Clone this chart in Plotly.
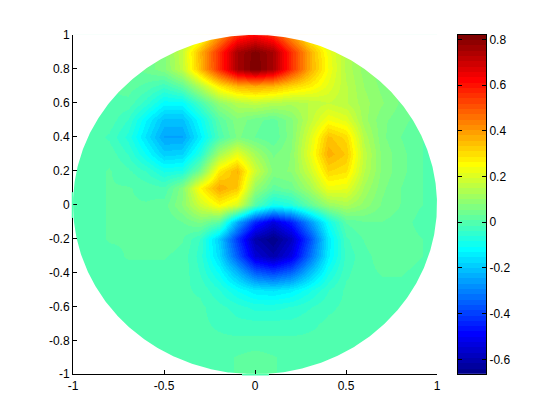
import numpy as np
import plotly.graph_objects as go

x_nodes = [round(-1 + 0.1 * i, 1) for i in range(21)]
y_nodes = [round(1 - 0.1 * i, 1) for i in range(21)]

row_p10 = [.00,.00,.00,.01,.02,.04,.09,.20,.40,.56,.62,.56,.40,.24,.13,.08,.06,.03,.01,.00,.00]
row_p09 = [.00,.00,.01,.02,.04,.07,.17,.36,.56,.75,.81,.75,.56,.37,.23,.14,.09,.06,.03,.01,.00]
row_p08 = [.00,.00,.01,.02,.04,.07,.16,.35,.56,.75,.82,.75,.56,.37,.24,.14,.09,.06,.03,.01,.00]
row_p07 = [.00,.00,.01,.02,.00,-.03,.02,.14,.28,.36,.38,.36,.31,.27,.21,.15,.10,.07,.04,.02,.00]
row_p06 = [.00,.00,.00,.00,-.05,-.12,-.12,-.02,.09,.14,.16,.14,.13,.15,.17,.15,.11,.08,.05,.02,.00]
row_p05 = [.00,.00,.00,-.04,-.13,-.21,-.21,-.11,.01,.07,.04,.02,.07,.16,.24,.21,.11,.06,.04,.02,.00]
row_p04 = [.00,.00,-.02,-.07,-.16,-.25,-.25,-.14,-.01,.06,.03,.01,.07,.20,.34,.30,.14,.06,.03,.01,.00]
row_p03 = [.00,.00,.00,-.04,-.11,-.19,-.18,-.07,.12,.22,.12,.05,.08,.22,.37,.33,.16,.07,.04,.01,.00]
row_p02 = [.00,.00,.01,-.01,-.04,-.09,-.08,.05,.28,.36,.18,.07,.08,.18,.31,.29,.15,.07,.04,.01,.00]
row_p01 = [.00,.00,.01,.01,.00,-.01,.07,.26,.38,.33,.10,.02,.04,.12,.23,.22,.12,.06,.03,.01,.00]
row_000 = [.00,.00,.01,.01,.01,.02,.08,.18,.26,.20,.00,-.10,-.07,.02,.10,.13,.09,.05,.03,.01,.00]
row_m01 = [.00,.00,.01,.01,.01,.01,.03,.06,.01,-.24,-.44,-.54,-.45,-.27,-.10,.01,.03,.03,.02,.00,.00]
row_m02 = [.00,.00,.01,.01,.02,.02,.01,-.04,-.19,-.41,-.61,-.665,-.58,-.38,-.15,-.02,.01,.03,.02,.01,.00]
row_m03 = [.00,.00,.00,.01,.01,.01,.00,-.05,-.17,-.36,-.55,-.61,-.53,-.33,-.14,-.03,.00,.02,.02,.01,.00]
row_m04 = [-.01,-.01,.00,.00,.00,.00,.00,-.04,-.11,-.22,-.35,-.39,-.34,-.21,-.09,-.02,.00,.01,.01,.00,-.01]
row_m05 = [-.01,-.01,-.01,-.01,-.01,-.01,-.01,-.02,-.06,-.11,-.15,-.16,-.14,-.09,-.04,-.01,-.01,.00,.00,-.01,-.01]
row_m06 = [-.01,-.01,-.01,-.01,-.01,-.01,-.01,-.01,-.03,-.05,-.07,-.07,-.06,-.04,-.02,-.01,-.01,.00,.00,-.01,-.01]
row_m07 = [-.01,-.01,-.01,-.01,-.01,-.01,-.01,-.01,-.02,-.03,-.03,-.03,-.03,-.02,-.01,-.01,-.01,-.01,-.01,-.01,-.01]
row_m08 = [-.01,-.01,-.01,-.01,-.01,-.01,-.01,-.01,-.01,-.01,-.01,-.01,-.01,-.01,-.01,-.01,-.01,-.01,-.01,-.01,-.01]
row_m09 = [-.01,-.01,-.01,-.01,-.01,-.01,-.01,-.01,.00,.01,.02,.01,.00,-.01,-.01,-.01,-.01,-.01,-.01,-.01,-.01]
row_m10 = [-.01,-.01,-.01,-.01,-.01,-.01,-.01,-.01,.00,.01,.02,.01,.00,-.01,-.01,-.01,-.01,-.01,-.01,-.01,-.01]

z_rows = [row_p10, row_p09, row_p08, row_p07, row_p06, row_p05, row_p04, row_p03, row_p02, row_p01, row_000,
          row_m01, row_m02, row_m03, row_m04, row_m05, row_m06, row_m07, row_m08, row_m09, row_m10]

z_min, z_max = -0.665, 0.82
axis_ticks = [-1, -0.8, -0.6, -0.4, -0.2, 0, 0.2, 0.4, 0.6, 0.8, 1]
axis_labels = ["-1", "-0.8", "-0.6", "-0.4", "-0.2", "0", "0.2", "0.4", "0.6", "0.8", "1"]
x_ticks = [-1, -0.5, 0, 0.5, 1]
x_labels = ["-1", "-0.5", "0", "0.5", "1"]
bar_ticks = [-0.6, -0.4, -0.2, 0, 0.2, 0.4, 0.6, 0.8]
bar_labels = ["-0.6", "-0.4", "-0.2", "0", "0.2", "0.4", "0.6", "0.8"]


def jet_scale(n=64):
    scale = []
    for i in range(n):
        t = (i + 1) / n
        c = [int(round(255 * min(1, max(0, 1.5 - abs(4 * t - k))))) for k in (3, 2, 1)]
        col = f"rgb({c[0]},{c[1]},{c[2]})"
        scale += [[i / n, col], [(i + 1) / n, col]]
    return scale


jet = jet_scale()
W, H = 560, 420
L, R, T, B = 30, 30, 15, 20
pw, ph = W - L - R, H - T - B


def dx(px):
    return (px - L) / pw


def dy(py):
    return (H - B - py) / ph


fig = go.Figure()
fig.add_trace(go.Heatmap(x=x_nodes, y=y_nodes, z=z_rows, zsmooth="best", colorscale=jet,
                         zmin=z_min, zmax=z_max, showscale=False, hoverinfo="skip"))

# white surround that turns the square field into the disk (opposite winding to the outer box)
th = np.linspace(np.pi, 3 * np.pi, 721)
mx = [-1.02, -1.02, 1.02, 1.02, -1.02, -1.02] + list(np.cos(th)) + [-1.02]
my = [0, 1.02, 1.02, -1.02, -1.02, 0] + list(np.sin(th)) + [0]
fig.add_trace(go.Scatter(x=mx, y=my, mode="lines", line=dict(width=0), fill="toself",
                         fillcolor="white", hoverinfo="skip", showlegend=False))

bar_levels = list(np.linspace(z_min, z_max, 65)[:-1] + (z_max - z_min) / 128)
fig.add_trace(go.Heatmap(x=[0, 1], y=bar_levels, z=[[v, v] for v in bar_levels], colorscale=jet,
                         zmin=z_min, zmax=z_max, showscale=False, hoverinfo="skip",
                         xaxis="x2", yaxis="y2"))

font = dict(family="Liberation Sans, Arial, sans-serif", size=12, color="black")
common = dict(showgrid=False, zeroline=False, showline=True, linecolor="black", linewidth=1,
              ticks="inside", ticklen=4, tickwidth=1, tickcolor="black", tickfont=font, tickmode="array")
disk_edge = "rgb(80,255,175)"
fig.update_layout(
    width=W, height=H, margin=dict(l=L, r=R, t=T, b=B, pad=0), autosize=False,
    paper_bgcolor="white", plot_bgcolor="white", showlegend=False,
    xaxis=dict(domain=[dx(73), dx(437)], range=[-1, 1], tickvals=x_ticks, ticktext=x_labels, **common),
    yaxis=dict(domain=[dy(374), dy(31)], range=[-1, 1], tickvals=axis_ticks, ticktext=axis_labels, **common),
    xaxis2=dict(domain=[dx(458), dx(486)], range=[0, 1], anchor="y2", showticklabels=False,
                showgrid=False, zeroline=False, showline=True, linecolor="black", mirror=True, ticks=""),
    yaxis2=dict(domain=[dy(374), dy(31)], range=[z_min, z_max], anchor="x2", side="right", mirror="ticks",
                tickvals=bar_ticks, ticktext=bar_labels, **common),
    shapes=[
        dict(type="line", xref="paper", yref="paper", x0=dx(72.5), x1=dx(72.5), y0=dy(190), y1=dy(216),
             line=dict(color=disk_edge, width=1.5), layer="above"),
        dict(type="line", xref="paper", yref="paper", x0=dx(242), x1=dx(269), y0=dy(374.5), y1=dy(374.5),
             line=dict(color=disk_edge, width=1.5), layer="above"),
    ],
)
fig.write_html("out.html", config=dict(displayModeBar=False),
               post_script="document.body.style.margin='0';document.documentElement.style.overflow='hidden';")
